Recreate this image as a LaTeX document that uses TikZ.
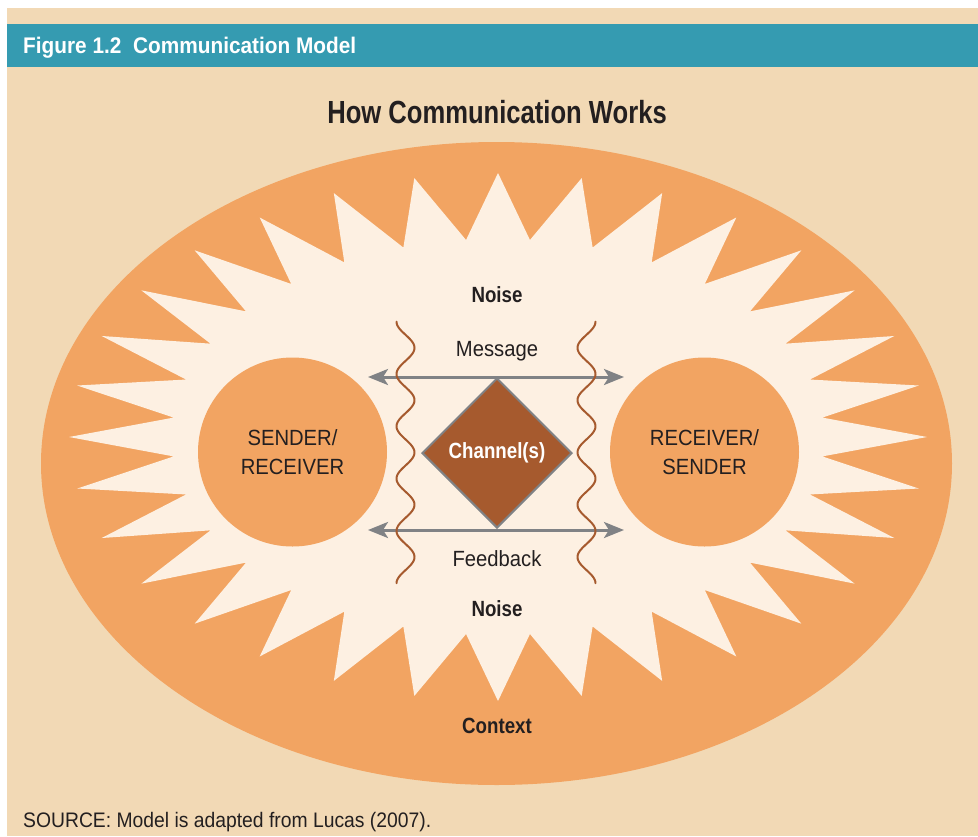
\documentclass[tikz,border=0pt]{standalone}
\usepackage{fontspec}
\setmainfont{Liberation Sans}[FakeStretch=0.92]
\newfontfamily\boldcond{Liberation Sans}[FakeStretch=0.85]
\newfontfamily\titlecond{Liberation Sans}[FakeStretch=0.80]
\usetikzlibrary{shapes.geometric, arrows.meta}

\definecolor{pagebg}{HTML}{F2D9B5}
\definecolor{barteal}{HTML}{359BB1}
\definecolor{contextfill}{HTML}{F2A462}
\definecolor{noisefill}{HTML}{FDF0E2}
\definecolor{channelfill}{HTML}{A65A2E}
\definecolor{arrowgray}{HTML}{808285}
\definecolor{ink}{HTML}{231F20}

\begin{document}
\begin{tikzpicture}[x=1pt, y=-1pt,
  txt/.style={text=ink, inner sep=0pt, anchor=base},
  boldlabel/.style={txt, font=\boldcond\bfseries\fontsize{22}{26}\selectfont},
  plainlabel/.style={txt, font=\fontsize{22}{26}\selectfont},
  party/.style={circle, fill=contextfill, minimum size=189pt, inner sep=0pt,
    align=center, text=ink, font=\fontsize{22}{29}\selectfont},
  flowtip/.tip={Stealth[length=20pt, width=16pt, inset=5pt]},
  flow/.style={arrowgray, line width=3pt, flowtip-flowtip},
  wave/.style={channelfill, line width=2pt, line cap=round},
]
\useasboundingbox (0,0) rectangle (978,836);
\fill[white] (0,0) rectangle (978,836);
\fill[pagebg] (7,8) rectangle (978,836);

% header bar
\fill[barteal] (7,24) rectangle (978,67);
\node[txt, anchor=base west, text=white, font=\bfseries\fontsize{22.6}{26}\selectfont]
  (figtitle) at (23,53.3) {Figure 1.2\hspace{6pt} Communication Model};
\node[txt, font=\titlecond\bfseries\fontsize{32}{36}\selectfont]
  (title) at (497,123) {How Communication Works};

% context ellipse
\fill[contextfill] (496.5,463.5) ellipse [x radius=455.5, y radius=321.5];

% noise starburst: 32 points alternating between two ellipses
\fill[noisefill] plot[samples at={0,...,63}, variable=\k]
  ({498 + (377.5+51.5*cos(\k*180))*cos(\k*5.625)},
   {437 - (231+33*cos(\k*180))*sin(\k*5.625)}) -- cycle;

% participants
\node[party] (sender) at (292.5,452) {SENDER/\\RECEIVER};
\node[party] (receiver) at (704.5,452) {RECEIVER/\\SENDER};

% channel
\node[diamond, fill=channelfill, draw=arrowgray, line width=2pt,
  minimum width=150pt, minimum height=150pt, inner sep=0pt, text=white,
  font=\boldcond\bfseries\fontsize{22}{26}\selectfont]
  (channel) at (497,453) {Channel(s)};

% message and feedback flows
\coordinate (msgL) at (368,377);
\coordinate (msgR) at (624,377);
\coordinate (fbL) at (368,530);
\coordinate (fbR) at (624,530);
\draw[flow] (msgL) -- (msgR);
\draw[flow] (fbL) -- (fbR);

% noise waves (period 52.3, five full periods)
\draw[wave] plot[domain=0:261.5, samples=180, smooth, variable=\t]
  ({405.5 - 9*cos(\t*6.8834)}, {321.7+\t});
\draw[wave] plot[domain=0:261.5, samples=180, smooth, variable=\t]
  ({586.5 + 9*cos(\t*6.8834)}, {321.7+\t});

% labels
\node[boldlabel] (noisetop) at (497,302.7) {Noise};
\node[plainlabel] (message) at (497,356.7) {Message};
\node[plainlabel] (feedback) at (497,566.7) {Feedback};
\node[boldlabel] (noisebottom) at (497,616.7) {Noise};
\node[boldlabel] (context) at (497,733.3) {Context};
\node[txt, anchor=base west, font=\fontsize{21}{25}\selectfont]
  (source) at (23,827) {SOURCE: Model is adapted from Lucas (2007).};
\end{tikzpicture}
\end{document}
